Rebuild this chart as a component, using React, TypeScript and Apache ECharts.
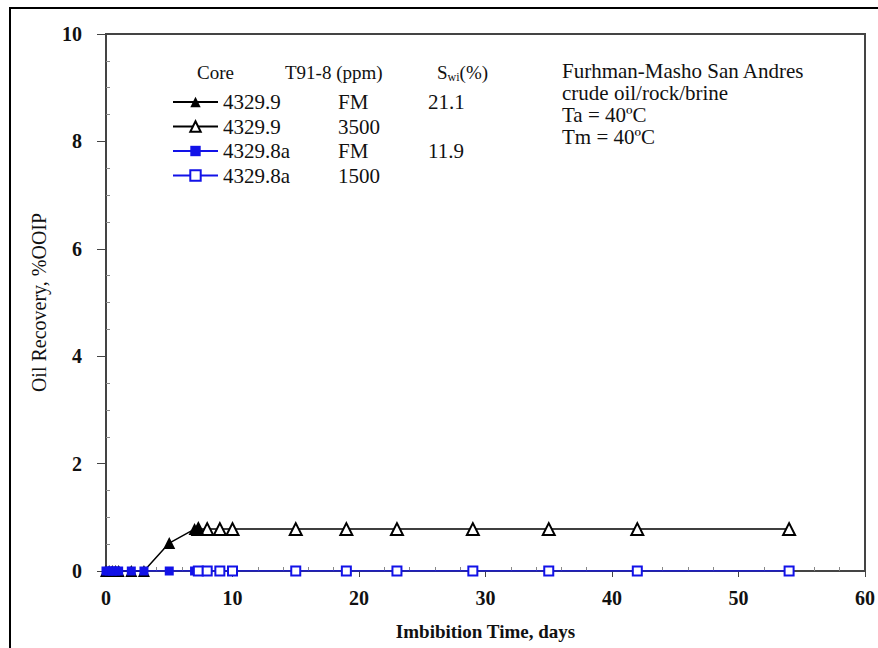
import React, { useEffect, useRef } from "react";
import * as echarts from "echarts";

// ---- data ----
const filledTriX = [0, 0.25, 0.5, 0.75, 1, 2, 3, 5, 7, 7.3];
const filledTriY = [0, 0, 0, 0, 0, 0, 0, 0.52, 0.78, 0.78];
const openTriX = [7.3, 8, 9, 10, 15, 19, 23, 29, 35, 42, 54];
const openTriY = [0.78, 0.78, 0.78, 0.78, 0.78, 0.78, 0.78, 0.78, 0.78, 0.78, 0.78];
const filledSqX = [0, 0.25, 0.5, 0.75, 1, 2, 3, 5, 7, 7.3];
const filledSqY = [0, 0, 0, 0, 0, 0, 0, 0, 0, 0];
const openSqX = [7.3, 8, 9, 10, 15, 19, 23, 29, 35, 42, 54];
const openSqY = [0, 0, 0, 0, 0, 0, 0, 0, 0, 0, 0];

const seriesNames = ["A", "B", "C", "D"];
const legendCore = ["4329.9", "4329.9", "4329.8a", "4329.8a"];
const legendPpm = ["FM", "3500", "FM", "1500"];
const legendSwi = ["21.1", "", "11.9", ""];

const noteLines = [
  "Furhman-Masho San Andres",
  "crude oil/rock/brine",
  "Ta = 40ºC",
  "Tm = 40ºC",
];

const FONT = "Liberation Serif";
const BLUE = "#1212e8";
const INK = "#111";

const zip = (xs: number[], ys: number[]) => xs.map((x, i) => [x, ys[i]]);

export default function App() {
  const ref = useRef<HTMLDivElement>(null);
  useEffect(() => {
    if (!ref.current) return;
    const chart = echarts.init(ref.current, null, { renderer: "svg" });
    const axisCommon = {
      type: "value" as const,
      axisLine: { show: true, lineStyle: { color: "#444", width: 2 } },
      splitLine: { show: false },
    };
    const richCell = { fontFamily: FONT, fontSize: 21, color: INK, lineHeight: 22 };
    chart.setOption({
      animation: false,
      backgroundColor: "#fff",
      textStyle: { fontFamily: FONT },
      grid: {
        left: 106,
        right: 12,
        top: 34,
        bottom: 77,
        show: true,
        borderColor: "#444",
        borderWidth: 2,
        backgroundColor: "transparent",
      },
      xAxis: [
        {
          ...axisCommon,
          min: 0,
          max: 60,
          interval: 10,
          position: "bottom",
          axisTick: { show: true, length: 6, lineStyle: { color: "#444" } },
          axisLabel: {
            margin: 17,
            fontFamily: FONT,
            fontSize: 20,
            fontWeight: "bold",
            color: INK,
          },
          name: "Imbibition Time, days",
          nameLocation: "middle",
          nameGap: 51,
          nameTextStyle: {
            fontFamily: FONT,
            fontSize: 19,
            fontWeight: "bold",
            color: INK,
          },
        },
        {
          ...axisCommon,
          min: 0,
          max: 60,
          interval: 10,
          position: "bottom",
          axisLine: { show: false },
          axisLabel: { show: false },
          axisTick: { show: false, inside: true },
          minorTick: { show: true, splitNumber: 5, length: 4, lineStyle: { color: "#888" } },
        },
      ],
      yAxis: [
        {
          ...axisCommon,
          min: 0,
          max: 10,
          interval: 2,
          position: "left",
          axisTick: { show: true, length: 9, lineStyle: { color: "#444" } },
          axisLabel: {
            margin: 24,
            fontFamily: FONT,
            fontSize: 20,
            fontWeight: "bold",
            color: INK,
          },
          name: "Oil Recovery, %OOIP",
          nameLocation: "middle",
          nameGap: 57,
          nameRotate: 90,
          nameTextStyle: {
            fontFamily: FONT,
            fontSize: 20,
            color: INK,
          },
        },
        {
          ...axisCommon,
          min: 0,
          max: 10,
          interval: 2,
          position: "left",
          axisLine: { show: false },
          axisLabel: { show: false },
          axisTick: { show: false, inside: true },
          minorTick: { show: true, splitNumber: 4, length: 4, lineStyle: { color: "#888" } },
        },
      ],
      legend: {
        show: true,
        orient: "vertical",
        left: 172,
        top: 91,
        padding: 0,
        itemWidth: 45,
        itemHeight: 13,
        itemGap: 2.5,
        data: seriesNames,
        formatter: (name: string) => {
          const i = seriesNames.indexOf(name);
          return `{a|${legendCore[i]}}{b|${legendPpm[i]}}{c|${legendSwi[i]}}`;
        },
        textStyle: {
          ...richCell,
          rich: {
            a: { ...richCell, width: 115 },
            b: { ...richCell, width: 90 },
            c: { ...richCell },
          },
        },
      },
      graphic: [
        {
          type: "rect",
          shape: { x: 10, y: 8, width: 1000, height: 1000 },
          style: { fill: "none", stroke: "#000", lineWidth: 2 },
          silent: true,
        },
        {
          type: "text",
          x: 197,
          y: 72,
          style: { text: "Core", fontFamily: FONT, fontSize: 19, fill: INK, verticalAlign: "middle" },
        },
        {
          type: "text",
          x: 285,
          y: 72,
          style: { text: "T91-8 (ppm)", fontFamily: FONT, fontSize: 19, fill: INK, verticalAlign: "middle" },
        },
        {
          type: "text",
          x: 437,
          y: 72,
          style: {
            text: "S{s|wi}(%)",
            fontFamily: FONT,
            fontSize: 19,
            fill: INK,
            verticalAlign: "middle",
            rich: { s: { fontFamily: FONT, fontSize: 12, fill: INK, padding: [9, 0, 0, 0] } },
          },
        },
        ...noteLines.map((t, i) => ({
          type: "text",
          x: 562,
          y: 71 + i * 22,
          style: { text: t, fontFamily: FONT, fontSize: 21, fill: INK, verticalAlign: "middle" },
        })),
      ],
      series: [
        {
          name: seriesNames[0],
          type: "line",
          z: 3,
          data: zip(filledTriX, filledTriY),
          symbol: "triangle",
          symbolSize: 12,
          color: "#000",
          itemStyle: { color: "#000" },
          lineStyle: { color: "#000", width: 1.5 },
        },
        {
          name: seriesNames[1],
          type: "line",
          z: 2,
          data: zip(openTriX, openTriY),
          symbol: "emptyTriangle",
          symbolSize: 12,
          color: "#000",
          itemStyle: { color: "#000", borderWidth: 1.5 },
          lineStyle: { color: "#000", width: 1.5 },
        },
        {
          name: seriesNames[2],
          type: "line",
          z: 4,
          data: zip(filledSqX, filledSqY),
          symbol: "rect",
          symbolSize: 9,
          color: BLUE,
          itemStyle: { color: BLUE },
          lineStyle: { color: BLUE, width: 1.5 },
        },
        {
          name: seriesNames[3],
          type: "line",
          z: 5,
          data: zip(openSqX, openSqY),
          symbol: "emptyRect",
          symbolSize: 9,
          color: BLUE,
          itemStyle: { color: BLUE, borderWidth: 1.5 },
          lineStyle: { color: BLUE, width: 1.5 },
        },
      ],
    });
    return () => chart.dispose();
  }, []);
  return (
    <div
      ref={ref}
      style={{ position: "absolute", left: 0, top: 0, width: 878, height: 648 }}
    />
  );
}
